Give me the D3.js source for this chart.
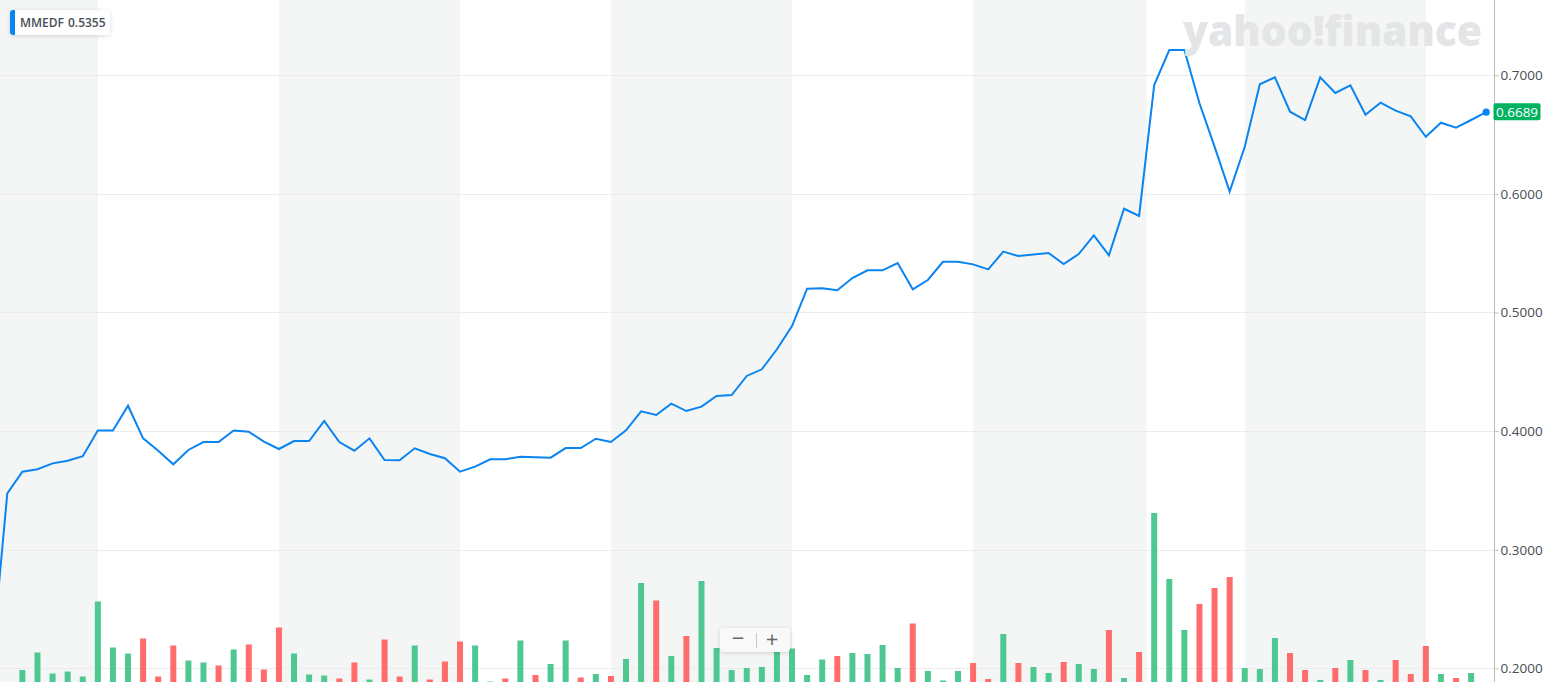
<!DOCTYPE html>
<html><head><meta charset="utf-8">
<script src="https://cdn.jsdelivr.net/npm/d3@7"></script>
<style>
html,body{margin:0;padding:0;background:#fff;overflow:hidden}
svg{display:block;font-family:"Open Sans","Noto Sans",sans-serif}
</style></head><body>
<svg id="chart" width="1549" height="682"></svg>
<script>
// ---- data ----
const symbol = "MMEDF";
const legendValue = "0.5355";
const lastLabel = "0.6689";
// session index runs from -1 (partly off-chart) to 98
const sessions = d3.range(-1, 99);
const prices = [0.209,
  0.3475,0.3658,0.3678,0.3728,0.3750,0.3788,0.4005,0.4005,0.4214,0.3939,
  0.3835,0.3720,0.3841,0.3908,0.3908,0.4005,0.3995,0.3911,0.3849,0.3916,
  0.3916,0.4085,0.3908,0.3835,0.3939,0.3756,0.3754,0.3855,0.3807,0.3771,
  0.3658,0.3700,0.3762,0.3762,0.3784,0.3779,0.3776,0.3857,0.3857,0.3936,
  0.3908,0.4007,0.4167,0.4136,0.4231,0.4169,0.4206,0.4296,0.4304,0.4465,
  0.4521,0.4690,0.4886,0.5201,0.5204,0.5187,0.5291,0.5356,0.5356,0.5417,
  0.5196,0.5274,0.5428,0.5428,0.5406,0.5364,0.5513,0.5476,0.5490,0.5502,
  0.5409,0.5493,0.5651,0.5482,0.5875,0.5814,0.6918,0.7213,0.7213,0.6764,
  0.6398,0.6019,0.6398,0.6924,0.6983,0.6693,0.6623,0.6983,0.6851,0.6916,
  0.6668,0.6769,0.6702,0.6654,0.6482,0.6600,0.6558,0.6623,0.6689];
// volume, thousands of shares
const volumes = [0,
  10,40,75,33,37,27,177,85,73,103,
  27,89,59,55,49,81,91,41,125,73,
  31,29,23,55,21,101,27,89,21,57,
  97,89,17,23,99,30,52,99,25,32,
  28,62,214,179,68,108,218,84,40,44,
  46,80,83,30,61,68,74,72,90,44,
  133,38,19,38,54,22,112,54,46,34,
  56,52,42,120,24,76,354,222,120,172,
  204,226,44,42,104,74,40,20,44,60,
  40,20,60,32,88,32,24,34,10];
// 1 = up session (green), 0 = down session (red)
const volumeUp = [1,
  1,1,1,1,1,1,1,1,1,0,
  0,0,1,1,0,1,0,0,0,1,
  1,1,0,0,1,0,0,1,0,0,
  0,1,1,0,1,0,1,1,0,1,
  0,1,1,0,1,0,1,1,1,1,
  1,1,1,1,1,0,1,1,1,1,
  0,1,1,1,0,0,1,0,1,1,
  0,1,1,0,1,0,1,1,1,0,
  0,0,1,1,1,0,0,1,0,1,
  0,1,0,0,0,1,0,1,1];
const yTicks = [0.2,0.3,0.4,0.5,0.6,0.7];
// shaded period bands, in session index units
const bandStarts = [-1, 18, 40, 64, 82];
const bandEnds   = [6, 30, 52, 75.5, 94];

// ---- layout ----
const W = 1549, H = 682, axisX = 1494.5;
const svg = d3.select("#chart");
const x = d3.scaleLinear().domain([0, 98]).range([7.3, 1486.2]);
const y = d3.scaleLinear().domain([0.2, 0.7]).range([668.3, 75.3]);
const yv = d3.scaleLinear().domain([0, 360]).range([690, 510]);
const rows = sessions.map((s, k) => ({s, p: prices[k], v: volumes[k], up: volumeUp[k]}));

const defs = svg.append("defs");
defs.append("clipPath").attr("id", "plot").append("rect")
  .attr("x", 0).attr("y", 0).attr("width", axisX).attr("height", H);
const sh = defs.append("filter").attr("id", "shadow")
  .attr("x", "-20%").attr("y", "-40%").attr("width", "140%").attr("height", "180%");
sh.append("feDropShadow").attr("dx", 0).attr("dy", 1).attr("stdDeviation", 2)
  .attr("flood-color", "#000").attr("flood-opacity", 0.15);

const plot = svg.append("g").attr("clip-path", "url(#plot)");

// bands
plot.selectAll("rect.band").data(bandStarts).join("rect").attr("class", "band")
  .attr("x", (d, i) => Math.max(0, x(d)))
  .attr("width", (d, i) => x(bandEnds[i]) - Math.max(0, x(d)))
  .attr("y", 0).attr("height", H).attr("fill", "#f4f6f6");

// grid
plot.selectAll("line.grid").data(yTicks).join("line").attr("class", "grid")
  .attr("x1", 0).attr("x2", axisX)
  .attr("y1", d => Math.round(y(d)) + 0.5).attr("y2", d => Math.round(y(d)) + 0.5)
  .attr("stroke", "#ececec").attr("stroke-width", 1);

// watermark
svg.append("text").attr("x", 1183).attr("y", 46)
  .attr("font-family", "'Open Sans', sans-serif").attr("font-weight", 800)
  .attr("font-size", 42).attr("fill", "#e4e5e6")
  .attr("textLength", 299).attr("lengthAdjust", "spacingAndGlyphs")
  .text("yahoo!finance");

// volume bars
plot.selectAll("rect.vol").data(rows.filter(r => r.v > 0)).join("rect").attr("class", "vol")
  .attr("x", d => x(d.s) - 3).attr("width", 6)
  .attr("y", d => yv(d.v)).attr("height", d => yv(0) - yv(d.v))
  .attr("fill", d => d.up ? "#4fc790" : "#ff6c6c");

// price line
plot.append("path").datum(rows)
  .attr("d", d3.line().x(d => x(d.s)).y(d => y(d.p)))
  .attr("fill", "none").attr("stroke", "#0a84f0").attr("stroke-width", 2)
  .attr("stroke-linejoin", "miter");

const last = rows[rows.length - 1];
svg.append("circle").attr("cx", x(last.s)).attr("cy", y(last.p)).attr("r", 3.6)
  .attr("fill", "#0a84f0");

// right axis
const axis = d3.axisRight(y).tickValues(yTicks).tickFormat(d3.format(".4f"))
  .tickSize(4).tickPadding(2);
const ag = svg.append("g").attr("transform", `translate(${axisX},0)`).call(axis);
ag.select(".domain").remove();
ag.selectAll(".tick line").attr("stroke", "#bdbdbd");
ag.selectAll(".tick text").attr("fill", "#464e56").attr("font-size", 13.5)
  .attr("font-family", "'Open Sans', sans-serif");
svg.append("line").attr("x1", axisX).attr("x2", axisX).attr("y1", 0).attr("y2", H)
  .attr("stroke", "#bdbdbd").attr("stroke-width", 1);

// last price label
const ly = y(last.p);
svg.append("rect").attr("x", axisX - 1).attr("y", ly - 9).attr("width", 47).attr("height", 17)
  .attr("rx", 2).attr("fill", "#00b25f");
svg.append("text").attr("x", axisX + 22.5).attr("y", ly + 4.5).attr("text-anchor", "middle")
  .attr("fill", "#fff").attr("font-size", 13.5).text(lastLabel);

// legend
const lg = svg.append("g");
lg.append("rect").attr("x", 10).attr("y", 10).attr("width", 100).attr("height", 25)
  .attr("rx", 3).attr("fill", "#fff").attr("filter", "url(#shadow)");
lg.append("path").attr("d", "M15,10 L13,10 Q10,10 10,13 L10,32 Q10,35 13,35 L15,35 Z")
  .attr("fill", "#0a84f0");
lg.append("text").attr("x", 20).attr("y", 27).attr("font-size", 12).attr("font-weight", 600)
  .attr("fill", "#464e56").text(symbol);
lg.append("text").attr("x", 68).attr("y", 27).attr("font-size", 12).attr("font-weight", 600)
  .attr("fill", "#464e56").text(legendValue);

// zoom control
const zc = svg.append("g").attr("transform", "translate(720,628)");
zc.append("rect").attr("width", 70).attr("height", 24).attr("rx", 4)
  .attr("fill", "#f9f9f9").attr("filter", "url(#shadow)");
zc.append("text").attr("x", 18).attr("y", 18).attr("text-anchor", "middle")
  .attr("font-size", 22).attr("fill", "#5f666c").text("−");
zc.append("line").attr("x1", 36.5).attr("x2", 36.5).attr("y1", 5).attr("y2", 20)
  .attr("stroke", "#c8c8c8");
zc.append("text").attr("x", 52).attr("y", 19).attr("text-anchor", "middle")
  .attr("font-size", 22).attr("fill", "#5f666c").text("+");
</script>
</body></html>
